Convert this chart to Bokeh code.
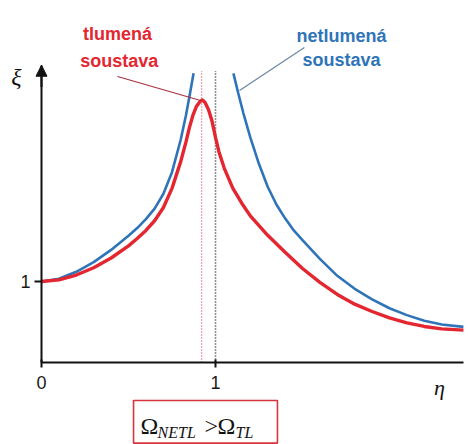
from bokeh.plotting import figure
from bokeh.models import Range1d, FixedTicker, Arrow, NormalHead
from bokeh.core.properties import value
from bokeh.embed import file_html
from bokeh.resources import INLINE

# ---- data ----
eta_blue_left = [0.0, 0.1, 0.2, 0.3, 0.4, 0.5, 0.55, 0.6, 0.65, 0.7, 0.75, 0.8, 0.83, 0.85, 0.874]
xi_blue_left = [1.0, 1.035, 1.12, 1.24, 1.39, 1.565, 1.66, 1.77, 1.90, 2.08, 2.35, 2.75, 3.05, 3.28, 3.57]

eta_blue_right = [1.103, 1.13, 1.16, 1.2, 1.25, 1.3, 1.35, 1.4, 1.45, 1.5, 1.6, 1.7, 1.8, 1.9,
                  2.0, 2.1, 2.2, 2.3, 2.425]
xi_blue_right = [3.57, 3.33, 3.08, 2.78, 2.45, 2.17, 1.95, 1.78, 1.63, 1.51, 1.28, 1.07, 0.91, 0.78,
                 0.67, 0.585, 0.515, 0.47, 0.44]

eta_red = [0.0, 0.1, 0.2, 0.3, 0.4, 0.5, 0.55, 0.6, 0.65, 0.7, 0.75, 0.8, 0.83, 0.85, 0.87, 0.89, 0.91,
           0.925, 0.94, 0.96, 0.98, 1.0, 1.02, 1.05, 1.1, 1.15, 1.2, 1.3, 1.4, 1.5, 1.6, 1.7, 1.8,
           1.9, 2.0, 2.1, 2.2, 2.3, 2.425]
xi_red = [1.0, 1.02, 1.08, 1.17, 1.29, 1.44, 1.53, 1.63, 1.75, 1.91, 2.15, 2.48, 2.72, 2.90, 3.05, 3.16,
          3.22, 3.24, 3.21, 3.12, 2.98, 2.78, 2.60, 2.40, 2.15, 1.97, 1.81, 1.57, 1.36, 1.16, 0.99, 0.84,
          0.72, 0.63, 0.55, 0.49, 0.445, 0.415, 0.40]

eta_res_tl = 0.92     # resonance of damped system
eta_res_netl = 1.0    # resonance of undamped system
xi_top = 3.6

x_ticks = [0, 1]
x_tick_labels = {0: "0", 1: "1"}
y_ticks = [1]
y_tick_labels = {1: "1"}

label_tl = ["tlumená", "soustava"]
label_netl = ["netlumená", "soustava"]
axis_x_label = "η"
axis_y_label = "ξ"
box_big = ["Ω", ">", "Ω"]
box_sub = ["NETL", "TL"]

RED = "#e3262f"
BLUE = "#2f74b8"

# 1 unit of eta = 174 px, 1 unit of xi = 81 px, origin at (41, 362) px
p = figure(width=468, height=444, output_backend="svg", toolbar_location=None,
           x_range=Range1d(-41 / 174, 427 / 174), y_range=Range1d(-82 / 81, 362 / 81),
           min_border=0, background_fill_color="white", border_fill_color="white")
p.outline_line_color = None
p.grid.visible = False

# axes at the origin
for ax in (p.xaxis, p.yaxis):
    ax.fixed_location = 0
    ax.axis_line_width = 2
    ax.axis_line_color = "#111111"
    ax.major_tick_line_width = 2
    ax.major_tick_line_color = "#111111"
    ax.minor_tick_line_color = None
    ax.major_label_text_font = "Liberation Sans"
    ax.major_label_text_font_size = "18px"
    ax.major_label_text_color = "#1a1a1a"
p.xaxis.bounds = (0, 2.425)
p.yaxis.bounds = (0, 3.67)
p.xaxis.ticker = FixedTicker(ticks=x_ticks)
p.xaxis.major_label_overrides = x_tick_labels
p.yaxis.ticker = FixedTicker(ticks=y_ticks)
p.yaxis.major_label_overrides = y_tick_labels
p.xaxis.major_tick_in = 3
p.xaxis.major_tick_out = 5
p.xaxis.major_label_standoff = 8
p.yaxis.major_tick_in = 0
p.yaxis.major_tick_out = 7
p.yaxis.major_label_standoff = 4

# arrow on the y axis
p.add_layout(Arrow(end=NormalHead(size=11, fill_color="#111111", line_color="#111111"),
                   x_start=0, y_start=3.4, x_end=0, y_end=3.67, line_width=2, line_color="#111111"))

# dotted resonance lines
p.segment(x0=[eta_res_tl], y0=[0], x1=[eta_res_tl], y1=[xi_top], line_color="#e05470",
          line_width=1.4, line_dash="1 2")
p.segment(x0=[eta_res_netl], y0=[0], x1=[eta_res_netl], y1=[xi_top], line_color="#222222",
          line_width=1.6, line_dash="1 2")

# curves
p.line(eta_blue_left, xi_blue_left, line_color=BLUE, line_width=2.6, line_join="round")
p.line(eta_blue_right, xi_blue_right, line_color=BLUE, line_width=2.6, line_join="round")
p.line(eta_red, xi_red, line_color=RED, line_width=3.4, line_join="round")

# leader lines
p.segment(x0=[0.437], y0=[3.531], x1=[0.914], y1=[3.235], line_color="#a8323f", line_width=1.2)
p.segment(x0=[1.511], y0=[3.889], x1=[1.138], y1=[3.358], line_color="#6a86a3", line_width=1.2)

# curve labels
p.text(x=[0.437, 0.447], y=[4.056, 3.728], text=label_tl, text_color=RED,
       text_font=value("Liberation Sans"), text_font_style="bold", text_font_size="18px",
       text_align="center", text_baseline="middle")
p.text(x=[1.724, 1.724], y=[4.037, 3.74], text=label_netl, text_color=BLUE,
       text_font=value("Liberation Sans"), text_font_style="bold", text_font_size="18px",
       text_align="center", text_baseline="middle")

# axis names
p.text(x=[-0.144], y=[3.52], text=[axis_y_label], text_font=value("Liberation Serif"),
       text_font_style="italic", text_font_size="24px", text_align="center",
       text_baseline="middle", text_color="#111111")
p.text(x=[2.287], y=[-0.31], text=[axis_x_label], text_font=value("Liberation Serif"),
       text_font_style="italic", text_font_size="22px", text_align="center",
       text_baseline="middle", text_color="#111111")

# bottom box
p.quad(left=[0.529], right=[1.356], top=[-0.469], bottom=[-0.995], fill_color=None,
       line_color="#d8343c", line_width=1.6)
p.text(x=[0.569, 0.937, 1.011], y=[-0.79, -0.79, -0.79], text=box_big,
       text_font=value("Liberation Serif"), text_font_size="24px", text_align="left",
       text_baseline="alphabetic", text_color="#111111")
p.text(x=[0.667, 1.115], y=[-0.864, -0.864], text=box_sub,
       text_font=value("Liberation Serif"), text_font_style="italic", text_font_size="16px",
       text_align="left", text_baseline="alphabetic", text_color="#111111")

open("out.html", "w").write(file_html(p, INLINE))
